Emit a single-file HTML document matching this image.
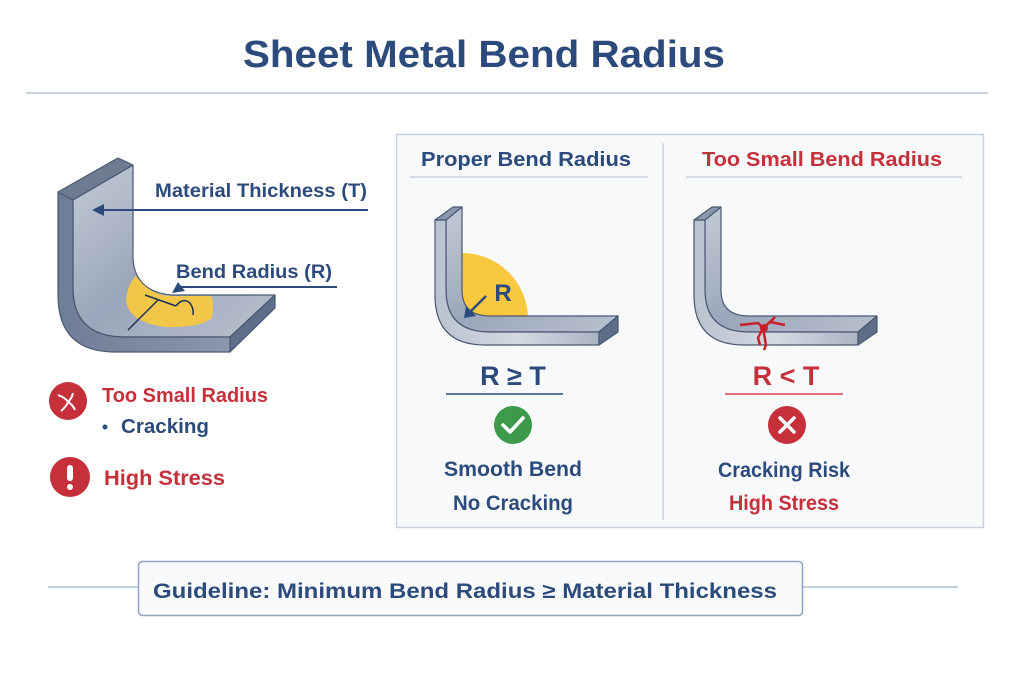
<!DOCTYPE html>
<html><head><meta charset="utf-8"><style>
html,body{margin:0;padding:0;background:#fff;}
svg{display:block;font-family:"Liberation Sans",sans-serif;font-weight:bold;}
</style></head><body>
<svg width="1024" height="683" viewBox="0 0 1024 683" xmlns="http://www.w3.org/2000/svg">
<defs>
<linearGradient id="gs" x1="0" y1="0" x2="1" y2="1"><stop offset="0" stop-color="#c3cbd8"/><stop offset="0.5" stop-color="#9aa6b9"/><stop offset="1" stop-color="#b8c1cf"/></linearGradient>
<linearGradient id="gf" x1="0" y1="0" x2="1" y2="0"><stop offset="0" stop-color="#b9c2d0"/><stop offset="0.5" stop-color="#d4dae3"/><stop offset="1" stop-color="#aab4c4"/></linearGradient>
<linearGradient id="gd" x1="0" y1="0" x2="1" y2="0"><stop offset="0" stop-color="#6e7d96"/><stop offset="1" stop-color="#8a97ad"/></linearGradient>
</defs>
<text x="484" y="67" font-size="38" fill="#2c4a7c" text-anchor="middle" textLength="482" lengthAdjust="spacingAndGlyphs">Sheet Metal Bend Radius</text>
<rect x="26" y="92" width="962" height="2" fill="#c9d2de"/>

<!-- Left figure -->
<g stroke="#4a5872" stroke-width="1.2" stroke-linejoin="round">
<path d="M73,200 L133,165 L133,260 Q136,292 172,295 L275,295 L230,337 L125,337 Q73,337 73,288 Z" fill="url(#gs)"/>
<path d="M58,192 L73,200 L73,288 Q73,337 125,337 L230,337 L230,352 L115,352 Q58,352 58,295 Z" fill="url(#gd)"/>
<path d="M58,192 L118,158 L133,165 L73,200 Z" fill="#6d7b93"/>
<path d="M230,337 L275,295 L275,308 L230,352 Z" fill="#5f6e88"/>
</g>
<path d="M136,276 Q150,296 172,296 L210,296 Q215,298 212,318 Q200,328 165,327 Q128,322 126,300 Q128,283 136,276 Z" fill="#f5c842" opacity="0.95"/>
<path d="M145,295 L176,306 M158,300 L128,330 M176,306 Q183,297 190,303 Q194,309 193,315" stroke="#1d2f55" stroke-width="1.5" fill="none"/>
<line x1="368" y1="210" x2="100" y2="210" stroke="#2c4a7c" stroke-width="2"/>
<path d="M92,210 L104,204 L104,216 Z" fill="#2c4a7c"/>
<text x="155" y="197" font-size="19" fill="#2c4a7c" textLength="212" lengthAdjust="spacingAndGlyphs">Material Thickness (T)</text>
<line x1="337" y1="287" x2="180" y2="287" stroke="#2c4a7c" stroke-width="2"/>
<path d="M172,293 L178,282 L185,291 Z" fill="#2c4a7c"/>
<text x="176" y="278" font-size="19" fill="#2c4a7c" textLength="156" lengthAdjust="spacingAndGlyphs">Bend Radius (R)</text>

<circle cx="68" cy="401" r="19" fill="#c5303a"/>
<path d="M58,395 Q66,398 68,402 Q66,407 61,411 M68,402 Q72,398 73,393 M68,402 Q73,405 75,410" stroke="#fff" stroke-width="2" fill="none"/>
<text x="102" y="402" font-size="20" fill="#c5303a" textLength="166" lengthAdjust="spacingAndGlyphs">Too Small Radius</text>
<circle cx="105" cy="427" r="2.5" fill="#2c4a7c"/>
<text x="121" y="433" font-size="20" fill="#2c4a7c" textLength="88" lengthAdjust="spacingAndGlyphs">Cracking</text>
<circle cx="70" cy="477" r="20" fill="#c5303a"/>
<rect x="67" y="465" width="6" height="16" rx="3" fill="#fff"/><circle cx="70" cy="487" r="3" fill="#fff"/>
<text x="104" y="485" font-size="21" fill="#c5303a" textLength="121" lengthAdjust="spacingAndGlyphs">High Stress</text>

<!-- Panel -->
<rect x="396.5" y="134.5" width="587" height="393" fill="#f8f9fb" stroke="#c8d1de" stroke-width="1.5"/>
<line x1="663" y1="143" x2="663" y2="520" stroke="#c8d1de" stroke-width="1.5"/>
<text x="526" y="166" font-size="20" fill="#2c4a7c" text-anchor="middle" textLength="210" lengthAdjust="spacingAndGlyphs">Proper Bend Radius</text>
<line x1="410" y1="177" x2="648" y2="177" stroke="#c8d1de" stroke-width="1.5"/>
<text x="822" y="166" font-size="20" fill="#c5303a" text-anchor="middle" textLength="240" lengthAdjust="spacingAndGlyphs">Too Small Bend Radius</text>
<line x1="686" y1="177" x2="962" y2="177" stroke="#c8d1de" stroke-width="1.5"/>

<path d="M462,318 L462,253 A66,66 0 0 1 528,318 Z" fill="#f8c93e"/>
<g id="brk" stroke="#4a5872" stroke-width="1.2" stroke-linejoin="round">
<path d="M446,220 L462,207 L462,290 Q462,316 490,316 L618,316 L599,332 L490,332 Q446,332 446,290 Z" fill="url(#gs)"/>
<path d="M435,220 L446,220 L446,290 Q446,332 490,332 L599,332 L599,345 L485,345 Q435,345 435,295 Z" fill="url(#gf)"/>
<path d="M435,220 L453,207 L462,207 L446,220 Z" fill="#8a97ad"/>
<path d="M599,332 L618,316 L618,332 L599,345 Z" fill="#5f6e88"/>
</g>
<line x1="486" y1="296" x2="470" y2="312" stroke="#2c4a7c" stroke-width="2.5"/>
<path d="M464,318 L466,306 L476,316 Z" fill="#2c4a7c"/>
<text x="503" y="301" font-size="24" fill="#2c4a7c" text-anchor="middle">R</text>
<use href="#brk" transform="translate(259,0)"/>
<path d="M740,325 L758,323 L763,328 L770,322 L785,325 M763,328 L758,338 L760,345 M763,328 L766,345 L764,350 M770,322 L775,317" stroke="#c8202a" stroke-width="2.5" fill="none"/>
<circle cx="764" cy="328" r="4" fill="#c8202a"/>

<text x="513" y="385" font-size="27" fill="#2c4a7c" text-anchor="middle">R ≥ T</text>
<line x1="446" y1="394" x2="563" y2="394" stroke="#2c4a7c" stroke-width="1.5"/>
<circle cx="513" cy="425" r="19" fill="#3d9a4a"/>
<path d="M503,425 L510,432 L523,418" stroke="#fff" stroke-width="3.5" fill="none" stroke-linecap="round" stroke-linejoin="round"/>
<text x="513" y="476" font-size="21" fill="#2c4a7c" text-anchor="middle" textLength="138" lengthAdjust="spacingAndGlyphs">Smooth Bend</text>
<text x="513" y="510" font-size="21" fill="#2c4a7c" text-anchor="middle" textLength="120" lengthAdjust="spacingAndGlyphs">No Cracking</text>

<text x="786" y="385" font-size="27" fill="#c5303a" text-anchor="middle">R &lt; T</text>
<line x1="725" y1="394" x2="843" y2="394" stroke="#d5454d" stroke-width="1.5"/>
<circle cx="787" cy="425" r="19" fill="#c5303a"/>
<path d="M780,418 L794,432 M794,418 L780,432" stroke="#fff" stroke-width="3.5" stroke-linecap="round"/>
<text x="784" y="477" font-size="21" fill="#2c4a7c" text-anchor="middle" textLength="132" lengthAdjust="spacingAndGlyphs">Cracking Risk</text>
<text x="784" y="510" font-size="21" fill="#c5303a" text-anchor="middle" textLength="110" lengthAdjust="spacingAndGlyphs">High Stress</text>

<line x1="48" y1="587" x2="958" y2="587" stroke="#9fb0c8" stroke-width="1.2"/>
<rect x="138.5" y="561.5" width="664" height="54" rx="4" fill="#f9fafc" stroke="#8fa3c2" stroke-width="1.5"/>
<text x="465" y="598" font-size="21" fill="#2c4a7c" text-anchor="middle" textLength="624" lengthAdjust="spacingAndGlyphs">Guideline:  Minimum Bend Radius ≥ Material Thickness</text>
</svg>
</body></html>
